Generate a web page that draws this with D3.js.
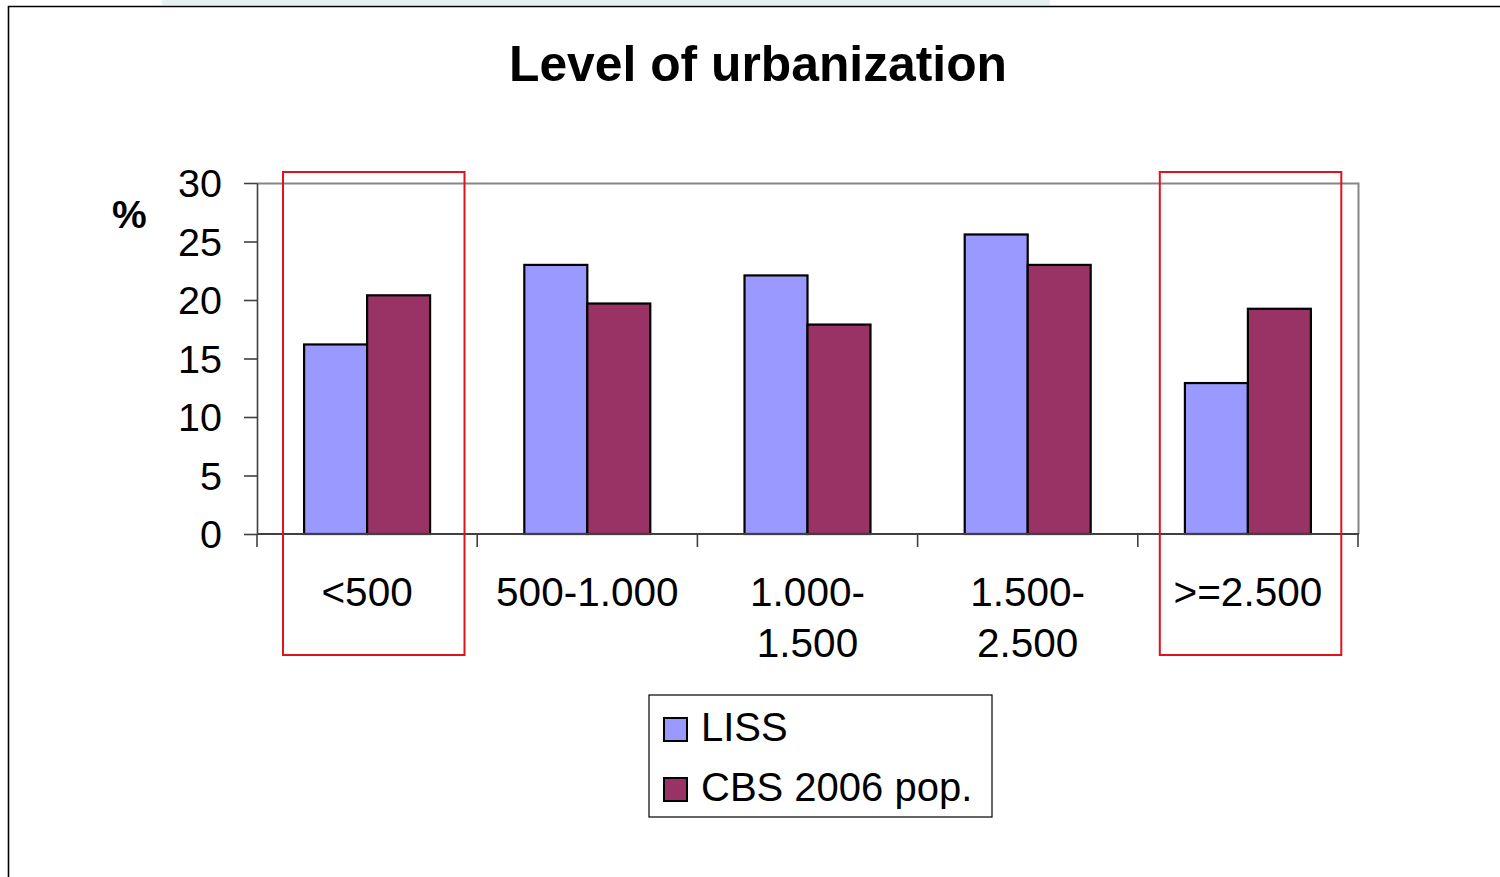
<!DOCTYPE html>
<html>
<head>
<meta charset="utf-8">
<script src="https://cdnjs.cloudflare.com/ajax/libs/d3/7.8.5/d3.min.js"></script>
<style>
  html, body { margin: 0; padding: 0; background: #fff; }
  svg { display: block; font-family: "Liberation Sans", Arial, sans-serif; }
</style>
</head>
<body>
<svg id="chart" width="1500" height="877"></svg>
<script>
// chart values
const categories = ["<500", "500-1.000", "1.000-\n1.500", "1.500-\n2.500", ">=2.500"]
const seriesNames = ["LISS", "CBS 2006 pop."]
const liss = [16.2, 23.0, 22.1, 25.6, 12.9]
const cbs = [20.4, 19.7, 17.9, 23.0, 19.25]
const yTicks = [0, 5, 10, 15, 20, 25, 30]
const highlighted = ["<500", ">=2.500"]
const highlightShift = [26, 22]
const colours = ["#9999ff", "#993366"]

let svg = d3.select("#chart")

// slide frame
svg.append("rect").attr("x", 162).attr("y", 0).attr("width", 888).attr("height", 5).attr("fill", "#e6f1f1")
svg.append("path")
   .attr("d", "M8.5,877 V6.5 H1500")
   .attr("fill", "none")
   .attr("stroke", "#000")
   .attr("stroke-width", 1.6)

svg.append("text")
   .attr("x", 758)
   .attr("y", 81)
   .attr("text-anchor", "middle")
   .style("font-size", "49.8px")
   .style("font-weight", "bold")
   .text("Level of urbanization")

let plot = {left: 257, right: 1358, top: 183, bottom: 534}

let x = d3.scaleBand().domain(categories).range([plot.left, plot.right]).padding(0)
let xs = d3.scaleBand().domain(seriesNames).range([0, x.bandwidth()]).paddingInner(0).paddingOuter(0.748)
let y = d3.scaleLinear().domain([0, 30]).range([plot.bottom, plot.top])

// plot frame (top and right)
svg.append("path")
   .attr("d", "M" + plot.left + "," + (plot.top + 0.5) + " H" + (plot.right + 0.5) + " V" + plot.bottom)
   .attr("fill", "none")
   .attr("stroke", "#858585")
   .attr("stroke-width", 2)

// y axis
let yAxis = svg.append("g")
               .attr("transform", "translate(" + plot.left + ",0)")
               .call(d3.axisLeft(y).tickValues(yTicks).tickSize(13).tickPadding(22).tickSizeOuter(0))
yAxis.selectAll("text").style("font-size", "39.5px").attr("fill", "#000").attr("dy", "0.35em")
yAxis.selectAll("line, path").attr("stroke", "#404040").attr("stroke-width", 1.6)

svg.append("text")
   .attr("x", 112)
   .attr("y", 228)
   .style("font-size", "39px")
   .style("font-weight", "bold")
   .text("%")

// bars
let rows = categories.map(function(c, i) {
  return {category: c, values: [liss[i], cbs[i]]}
})

let groups = svg.selectAll(".group")
                .data(rows)
                .enter()
                .append("g")
                .attr("class", "group")
                .attr("transform", function(d) { return "translate(" + x(d.category) + ",0)" })

groups.selectAll("rect")
      .data(function(d) {
        return d.values.map(function(v, j) { return {name: seriesNames[j], value: v, colour: colours[j]} })
      })
      .enter()
      .append("rect")
      .attr("x", function(d) { return xs(d.name) })
      .attr("y", function(d) { return y(d.value) })
      .attr("width", xs.bandwidth())
      .attr("height", function(d) { return y(0) - y(d.value) })
      .attr("fill", function(d) { return d.colour })
      .attr("stroke", "#000")
      .attr("stroke-width", 2.2)

// x axis line and boundary ticks
svg.append("line")
   .attr("x1", plot.left).attr("x2", plot.right + 1)
   .attr("y1", plot.bottom).attr("y2", plot.bottom)
   .attr("stroke", "#404040").attr("stroke-width", 2)

let boundaries = categories.map(function(c) { return x(c) }).concat([x.range()[1]])
svg.selectAll(".xtick")
   .data(boundaries)
   .enter()
   .append("line")
   .attr("class", "xtick")
   .attr("x1", function(d) { return d }).attr("x2", function(d) { return d })
   .attr("y1", plot.bottom).attr("y2", plot.bottom + 13)
   .attr("stroke", "#404040").attr("stroke-width", 1.6)

let labels = svg.selectAll(".xlabel")
                .data(categories)
                .enter()
                .append("text")
                .attr("class", "xlabel")
                .attr("text-anchor", "middle")
                .style("font-size", "40.5px")

labels.selectAll("tspan")
      .data(function(d) {
        return d.split("\n").map(function(line, k) { return {line: line, k: k, c: d} })
      })
      .enter()
      .append("tspan")
      .attr("x", function(d) { return x(d.c) + x.bandwidth() / 2 })
      .attr("y", function(d) { return 606 + d.k * 50.5 })
      .text(function(d) { return d.line })

// red highlight boxes
svg.selectAll(".highlight")
   .data(highlighted)
   .enter()
   .append("rect")
   .attr("class", "highlight")
   .attr("x", function(d, i) { return x(d) + highlightShift[i] })
   .attr("y", 172)
   .attr("width", 181.5)
   .attr("height", 483)
   .attr("fill", "none")
   .attr("stroke", "#e0121c")
   .attr("stroke-width", 2)

// legend
let legend = svg.append("g").attr("transform", "translate(649,695)")
legend.append("rect")
      .attr("width", 343).attr("height", 122)
      .attr("fill", "#fff").attr("stroke", "#000").attr("stroke-width", 1.2)

let items = legend.selectAll(".item")
                  .data(seriesNames)
                  .enter()
                  .append("g")
                  .attr("class", "item")
                  .attr("transform", function(d, i) { return "translate(15," + (23 + i * 60) + ")" })

items.append("rect")
     .attr("width", 23).attr("height", 23)
     .attr("fill", function(d, i) { return colours[i] })
     .attr("stroke", "#000").attr("stroke-width", 2)

items.append("text")
     .attr("x", 37)
     .attr("y", 23)
     .style("font-size", "40px")
     .text(function(d) { return d })
</script>
</body>
</html>
